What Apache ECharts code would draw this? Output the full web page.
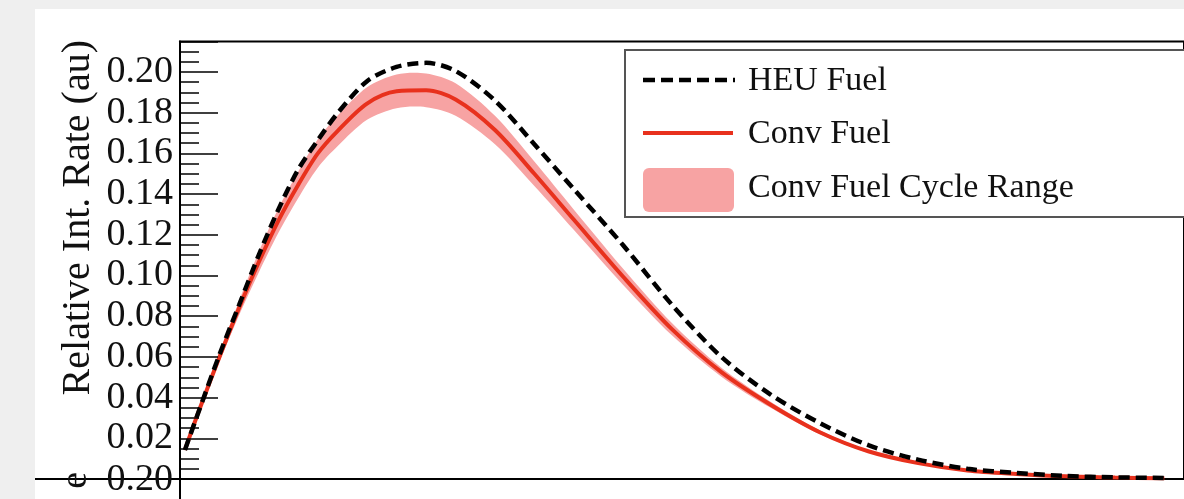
<!DOCTYPE html>
<html>
<head>
<meta charset="utf-8">
<script src="https://cdn.jsdelivr.net/npm/echarts@6/dist/echarts.min.js"></script>
<style>
  html, body { margin: 0; padding: 0; background: #efefef; }
  #paper { position: absolute; left: 35px; top: 9px; width: 1149px; height: 490px; background: #ffffff; }
  #chart { position: absolute; left: 0; top: 0; width: 1184px; height: 499px; }
</style>
</head>
<body>
<div id="paper"></div>
<div id="chart"></div>
<script>
// x positions (arbitrary units, no x labels visible in the reference)
const xs = [0.5, 2, 4, 6, 8, 10, 12, 14, 16, 19, 22, 25, 28, 32, 36, 40, 45, 50, 55, 60, 65, 70, 75, 80, 85, 90, 95, 100];
// HEU Fuel (dashed black)
const heuFuel = [0.0143, 0.0345, 0.061, 0.0855, 0.110, 0.1325, 0.152, 0.1665, 0.1797, 0.1955, 0.2025, 0.2045, 0.2005, 0.186, 0.1645, 0.1425, 0.115, 0.0855, 0.060, 0.0415, 0.0275, 0.0165, 0.0095, 0.0050, 0.0030, 0.0015, 0.0008, 0.0005];
// Conv Fuel (solid red)
const convFuel = [0.0143, 0.0345, 0.0598, 0.084, 0.1065, 0.127, 0.1445, 0.160, 0.171, 0.1845, 0.1905, 0.1910, 0.1865, 0.1715, 0.150, 0.1275, 0.0995, 0.0735, 0.0525, 0.0365, 0.0230, 0.0135, 0.0078, 0.0042, 0.0025, 0.0013, 0.0007, 0.0004];
// Conv Fuel Cycle Range (band edges)
const convLow = [0.0138, 0.0333, 0.0575, 0.0805, 0.1015, 0.121, 0.138, 0.153, 0.1635, 0.1765, 0.1822, 0.1827, 0.1785, 0.1645, 0.1440, 0.1225, 0.0955, 0.0705, 0.0503, 0.0350, 0.0220, 0.0129, 0.0075, 0.0040, 0.0024, 0.00125, 0.00067, 0.00038];
const convHigh = [0.0148, 0.0357, 0.0621, 0.0875, 0.1115, 0.133, 0.151, 0.167, 0.1785, 0.1925, 0.1988, 0.1993, 0.1945, 0.1785, 0.1560, 0.1325, 0.1035, 0.0765, 0.0547, 0.0380, 0.0240, 0.0141, 0.0081, 0.0044, 0.0026, 0.00135, 0.00073, 0.00042];
const yTickLabels = ['0.02', '0.04', '0.06', '0.08', '0.10', '0.12', '0.14', '0.16', '0.18', '0.20'];
const legendNames = ['HEU Fuel', 'Conv Fuel', 'Conv Fuel Cycle Range'];

const pair = (arr) => xs.map((x, i) => [x, arr[i]]);
const SERIF = '"Liberation Serif", "DejaVu Serif", serif';
const RED = '#e8311d';
const PINK = '#f7a3a3';

const chart = echarts.init(document.getElementById('chart'), null, { renderer: 'canvas' });
chart.setOption({
  animation: false,
  backgroundColor: 'transparent',
  grid: { left: 180, right: -16, top: 41.5, bottom: 20, show: true, borderColor: '#000', borderWidth: 2, backgroundColor: 'transparent' },
  xAxis: {
    type: 'value', min: 0, max: 102,
    axisLine: { show: true, lineStyle: { color: '#000', width: 2 } },
    axisTick: { show: false }, axisLabel: { show: false }, splitLine: { show: false }
  },
  yAxis: {
    type: 'value', min: 0, max: 0.215, interval: 0.02, z: 10,
    axisLine: { show: true, lineStyle: { color: '#000', width: 2 } },
    axisTick: { show: true, inside: true, length: 38, lineStyle: { color: '#000', width: 1.5 } },
    minorTick: { show: true, splitNumber: 4, length: 19, lineStyle: { color: '#000', width: 1.5 } },
    splitLine: { show: false },
    axisLabel: {
      margin: 7, color: '#111', fontFamily: SERIF, fontSize: 38,
      formatter: (v) => { const s = v.toFixed(2); return yTickLabels.indexOf(s) >= 0 && Math.abs(v - parseFloat(s)) < 1e-9 ? s : ''; }
    }
  },
  series: [
    { name: legendNames[2], type: 'custom', data: [[xs[0], convLow[0]]], clip: true, z: 1, silent: true,
      renderItem: (params, api) => {
        const pts = [];
        for (let i = 0; i < xs.length; i++) pts.push(api.coord([xs[i], convHigh[i]]));
        for (let i = xs.length - 1; i >= 0; i--) pts.push(api.coord([xs[i], convLow[i]]));
        return { type: 'polygon', shape: { points: pts, smooth: 0.3 }, style: { fill: PINK } };
      } },
    { name: legendNames[1], type: 'line', data: pair(convFuel), symbol: 'none', smooth: 0.3,
      lineStyle: { color: RED, width: 4 }, itemStyle: { color: RED }, z: 3 },
    { name: legendNames[0], type: 'line', data: pair(heuFuel), symbol: 'none', smooth: 0.3,
      lineStyle: { color: '#000', width: 4.5, type: [11, 6] }, itemStyle: { color: '#000' }, z: 4 }
  ],
  graphic: [
    // legend box
    { type: 'rect', shape: { x: 625, y: 50, width: 700, height: 167 }, style: { fill: '#fff', stroke: '#555', lineWidth: 2 }, z: 5 },
    { type: 'line', shape: { x1: 643, y1: 80, x2: 735, y2: 80 }, style: { stroke: '#000', lineWidth: 4.5, lineDash: [12, 6] }, z: 6 },
    { type: 'line', shape: { x1: 643, y1: 133, x2: 733, y2: 133 }, style: { stroke: RED, lineWidth: 4 }, z: 6 },
    { type: 'rect', shape: { x: 643, y: 168, width: 91, height: 44, r: 6 }, style: { fill: PINK }, z: 6 },
    { type: 'text', x: 748, y: 81, z: 6, style: { text: legendNames[0], verticalAlign: 'middle', font: '34px "Liberation Serif"', fill: '#111' } },
    { type: 'text', x: 748, y: 134, z: 6, style: { text: legendNames[1], verticalAlign: 'middle', font: '34px "Liberation Serif"', fill: '#111' } },
    { type: 'text', x: 748, y: 188, z: 6, style: { text: legendNames[2], verticalAlign: 'middle', font: '34px "Liberation Serif"', fill: '#111' } },
    // axis title
    { type: 'text', x: 78, y: 40, rotation: Math.PI / 2,
      style: { text: 'Relative Int. Rate (au)', x: 0, y: 0, align: 'right', verticalAlign: 'middle', font: '40px "Liberation Serif"', fill: '#111' } },
    // lower pad (cut off at the bottom edge)
    { type: 'line', shape: { x1: 35, y1: 479, x2: 180, y2: 479 }, style: { stroke: '#000', lineWidth: 2 } },
    { type: 'line', shape: { x1: 180, y1: 479, x2: 180, y2: 499 }, style: { stroke: '#000', lineWidth: 2 } },
    { type: 'text', x: 173, y: 480,
      style: { text: '0.20', align: 'right', verticalAlign: 'middle', font: '38px "Liberation Serif"', fill: '#111' } },
    { type: 'text', x: 76, y: 472, rotation: Math.PI / 2,
      style: { text: 'e', x: 0, y: 0, align: 'right', verticalAlign: 'middle', font: '38px "Liberation Serif"', fill: '#111' } }
  ]
});
</script>
</body>
</html>
